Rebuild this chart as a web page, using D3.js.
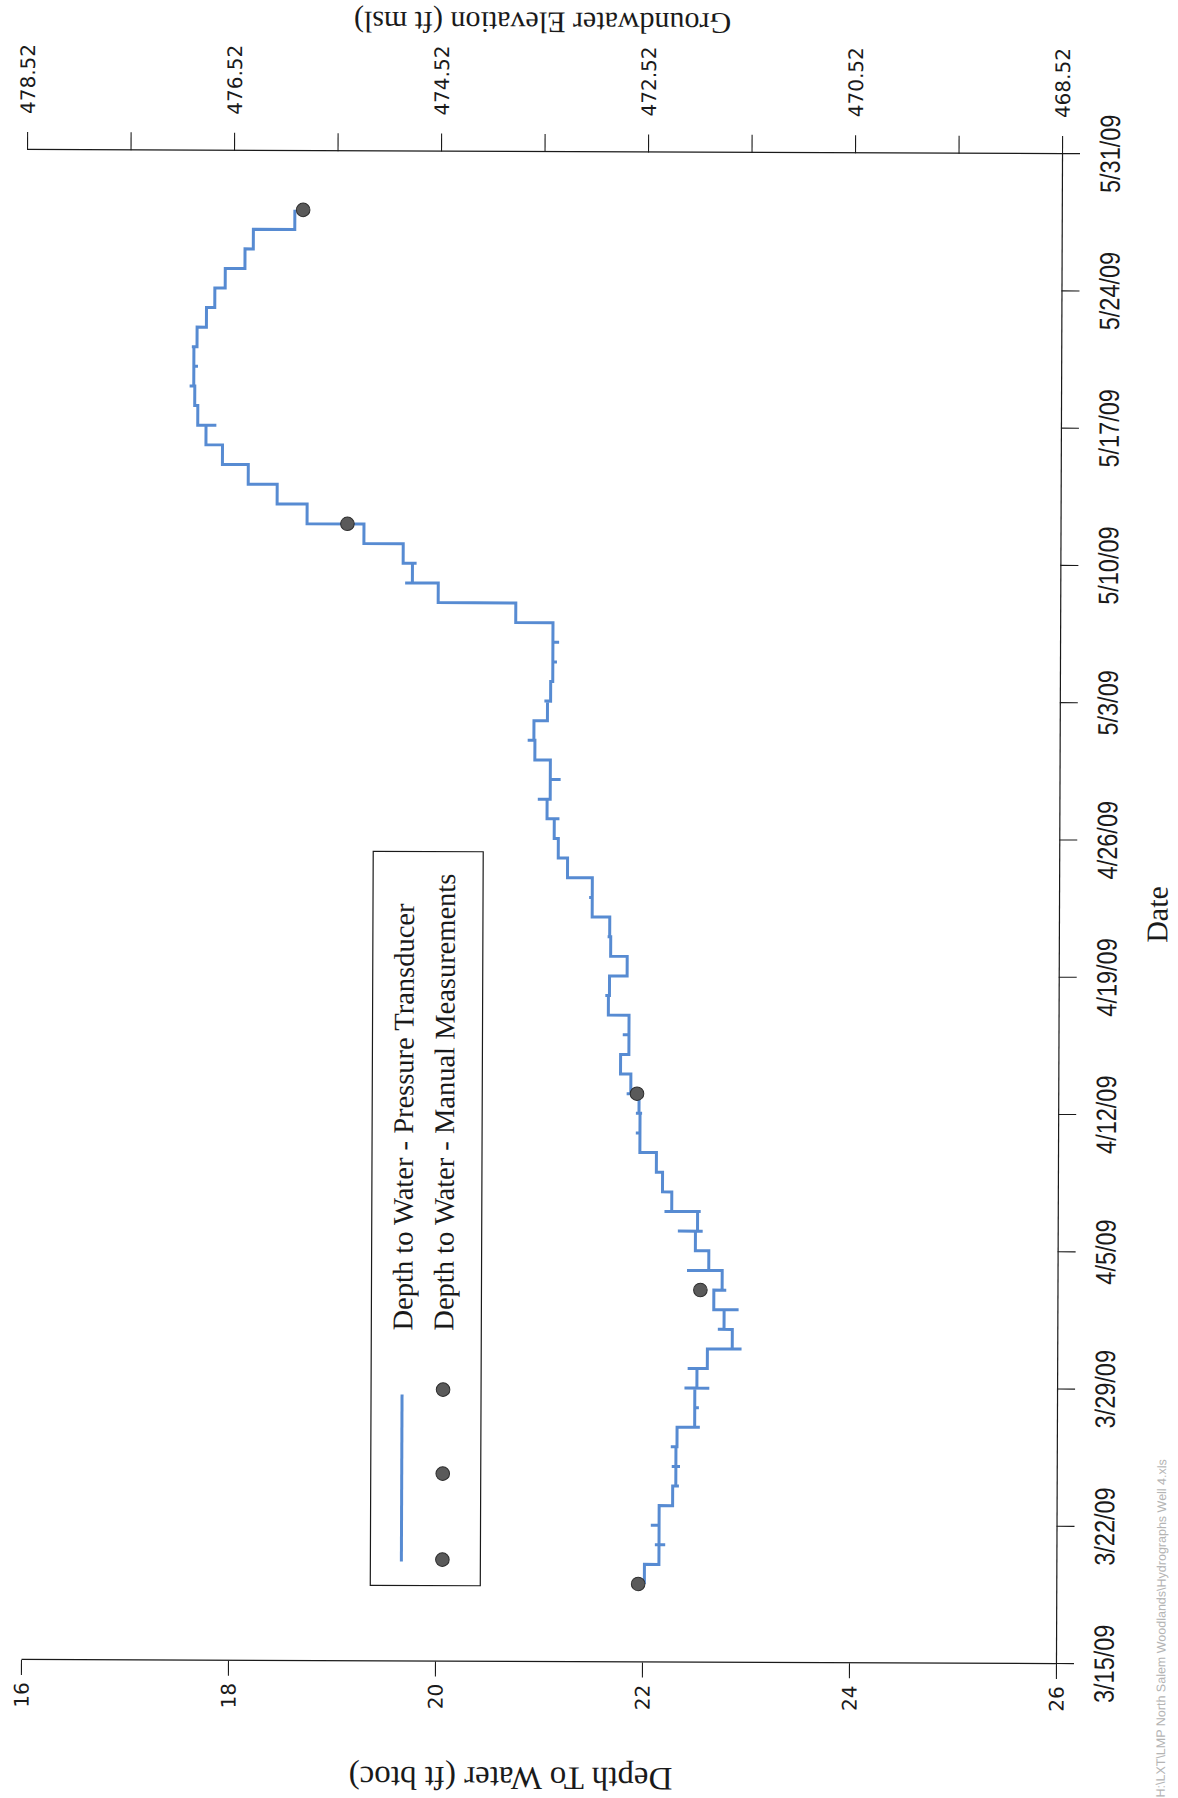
<!DOCTYPE html>
<html>
<head>
<meta charset="utf-8">
<script src="https://cdn.jsdelivr.net/npm/d3@7"></script>
<style>
  html, body { margin: 0; padding: 0; background: #fff; }
  svg { display: block; }
</style>
</head>
<body>
<svg id="chart" width="1178" height="1798"></svg>
<script>
// Well 4 hydrograph, spring 2009: depth to water recorded by the pressure
// transducer (step record) plus manual tape measurements. The sheet is laid
// out in landscape, so the whole plot is turned a quarter turn on the page.

// Transducer record: date and depth (ft below top of casing).
// Repeated dates are readings logged within the same day.
const transducerDates = [
  "3/19/09", "3/20/09", "3/21/09", "3/21/09", "3/21/09", "3/22/09", "3/22/09",
  "3/23/09", "3/24/09", "3/24/09", "3/25/09", "3/25/09", "3/25/09", "3/26/09", "3/26/09",
  "3/27/09", "3/27/09", "3/28/09", "3/28/09", "3/29/09", "3/29/09", "3/29/09",
  "3/30/09", "3/30/09", "3/31/09", "3/31/09", "4/1/09", "4/1/09", "4/2/09", "4/2/09",
  "4/3/09", "4/3/09", "4/4/09", "4/4/09", "4/5/09", "4/6/09", "4/6/09", "4/6/09",
  "4/7/09", "4/7/09", "4/7/09", "4/8/09", "4/9/09", "4/10/09", "4/11/09", "4/11/09",
  "4/12/09", "4/12/09", "4/12/09", "4/13/09", "4/13/09", "4/14/09", "4/15/09",
  "4/16/09", "4/16/09", "4/17/09", "4/18/09", "4/18/09", "4/19/09", "4/20/09",
  "4/21/09", "4/21/09", "4/22/09", "4/23/09", "4/23/09", "4/24/09", "4/25/09",
  "4/26/09", "4/27/09", "4/27/09", "4/28/09", "4/28/09", "4/29/09", "4/29/09",
  "4/30/09", "5/1/09", "5/1/09", "5/2/09", "5/3/09", "5/3/09", "5/4/09",
  "5/5/09", "5/5/09", "5/6/09", "5/6/09", "5/7/09", "5/8/09", "5/9/09", "5/9/09",
  "5/10/09", "5/10/09", "5/11/09", "5/12/09", "5/13/09", "5/14/09", "5/15/09",
  "5/16/09", "5/17/09", "5/17/09", "5/18/09", "5/19/09", "5/19/09", "5/20/09",
  "5/20/09", "5/21/09", "5/21/09", "5/22/09", "5/23/09", "5/24/09", "5/25/09",
  "5/26/09", "5/27/09", "5/28/09"
];
const transducerDepths = [
  22.02, 22.16, 22.22, 22.12, 22.16, 22.08, 22.16,
  22.29, 22.35, 22.32, 22.28, 22.36, 22.32, 22.27, 22.33,
  22.55, 22.50, 22.54, 22.50, 22.40, 22.64, 22.52,
  22.43, 22.62, 22.95, 22.86, 22.72, 22.78, 22.92, 22.68,
  22.80, 22.76, 22.42, 22.63, 22.50, 22.33, 22.57, 22.52,
  22.55, 22.20, 22.27, 22.18, 22.12, 21.96, 21.92, 21.96,
  21.92, 21.98, 21.95, 21.83, 21.87, 21.77, 21.85,
  21.79, 21.85, 21.65, 21.62, 21.66, 21.83, 21.67,
  21.64, 21.66, 21.49, 21.46, 21.49, 21.25, 21.16,
  21.12, 21.17, 21.05, 20.96, 21.08, 21.18, 21.08,
  20.93, 20.86, 20.92, 21.05, 21.02, 21.08, 21.10,
  21.14, 21.10, 21.16, 21.10, 20.74, 19.99, 19.67, 19.74,
  19.78, 19.65, 19.27, 18.72, 18.43, 18.15, 17.90,
  17.74, 17.84, 17.66, 17.63, 17.58, 17.62, 17.66,
  17.62, 17.60, 17.65, 17.74, 17.82, 17.92, 18.11,
  18.19, 18.59, 18.59
];

// Manual depth-to-water measurements.
const manualDates = ["3/19/09", "4/3/09", "4/13/09", "5/12/09", "5/28/09"];
const manualDepths = [21.96, 22.55, 21.93, 19.11, 18.67];

// Axis ticks.
const dateTicks = ["3/15/09", "3/22/09", "3/29/09", "4/5/09", "4/12/09", "4/19/09",
                   "4/26/09", "5/3/09", "5/10/09", "5/17/09", "5/24/09", "5/31/09"];
const depthTicks = [16, 18, 20, 22, 24, 26];
const elevationTicks = [478.52, 477.52, 476.52, 475.52, 474.52, 473.52,
                        472.52, 471.52, 470.52, 469.52, 468.52];
const elevationLabels = ["478.52", "476.52", "474.52", "472.52", "470.52", "468.52"];

// Top-of-casing elevation: groundwater elevation = datum - depth to water.
const casingElevation = 494.52;

const legendItems = ["Depth to Water - Pressure Transducer",
                     "Depth to Water - Manual Measurements"];
const footerText = "H:\\LXT\\LMP North Salem Woodlands\\Hydrographs Well 4.xls";

// ---------------------------------------------------------------------------
const W = 1510;   // length of the date axis
const H = 1035;   // length of the depth axis
const ink = "#1a1a1a";
const lineBlue = "#578bd2";
const serif = "'Liberation Serif', 'Times New Roman', serif";
const numFont = "'DejaVu Sans', Verdana, sans-serif";
const narrowFont = "'Liberation Sans Narrow', 'Liberation Sans', Arial, sans-serif";

const parse = d3.timeParse("%m/%d/%y");
const fmt = d3.timeFormat("%-m/%-d/%y");

const svg = d3.select("#chart");
svg.append("rect").attr("width", 1178).attr("height", 1798).attr("fill", "#fff");

// page sits very slightly askew; the plot itself is drawn in landscape and turned
const page = svg.append("g").attr("transform", "rotate(0.23 541 907)");
const g = page.append("g").attr("transform", "translate(24,1662) rotate(-90)");

const x = d3.scaleTime()
  .domain([parse(dateTicks[0]), parse(dateTicks[dateTicks.length - 1])])
  .range([0, W]);
const y = d3.scaleLinear().domain([16, 26]).range([0, H]);
const yElev = d3.scaleLinear()
  .domain([casingElevation - 16, casingElevation - 26])
  .range([0, H]);

function styleAxis(sel) {
  sel.attr("font-family", null).attr("font-size", null);
  sel.select(".domain").attr("stroke", ink).attr("stroke-width", 1.2);
  sel.selectAll(".tick line").attr("stroke", ink).attr("stroke-width", 1.1);
  sel.selectAll(".tick text").attr("fill", ink);
}

// Date axis
const xAxisG = g.append("g")
  .attr("transform", `translate(0,${H})`)
  .call(d3.axisBottom(x)
    .tickValues(dateTicks.map(parse))
    .tickFormat(fmt)
    .tickSize(18)
    .tickSizeOuter(0));
styleAxis(xAxisG);
xAxisG.selectAll(".tick text")
  .attr("y", 48).attr("dy", "0.35em")
  .attr("font-family", narrowFont).attr("font-size", 28)
  .attr("transform", "scale(0.84,1)");

// Depth axis
const yAxisG = g.append("g")
  .call(d3.axisLeft(y)
    .tickValues(depthTicks)
    .tickFormat(d3.format("d"))
    .tickSize(15)
    .tickSizeOuter(0));
styleAxis(yAxisG);
yAxisG.selectAll(".tick text")
  .attr("x", -35).attr("dy", "0.36em").attr("text-anchor", "middle")
  .attr("font-family", numFont).attr("font-size", 20);

// Groundwater elevation axis
const eAxisG = g.append("g")
  .attr("transform", `translate(${W},0)`)
  .call(d3.axisRight(yElev)
    .tickValues(elevationTicks)
    .tickFormat(d => {
      const s = d3.format(".2f")(d);
      return elevationLabels.includes(s) ? s : "";
    })
    .tickSize(18)
    .tickSizeOuter(0));
styleAxis(eAxisG);
eAxisG.selectAll(".tick text")
  .attr("x", 71).attr("dy", "0.36em").attr("text-anchor", "middle")
  .attr("font-family", numFont).attr("font-size", 20);

// Axis titles
g.append("text")
  .attr("x", 750).attr("y", 1133).attr("dy", "0.35em")
  .attr("text-anchor", "middle")
  .attr("font-family", serif).attr("font-size", 30).attr("fill", ink)
  .text("Date");

g.append("text")
  .attr("transform", "translate(-117,490) rotate(-90)")
  .attr("dy", "0.35em").attr("text-anchor", "middle")
  .attr("font-family", serif).attr("font-size", 33).attr("fill", ink)
  .text("Depth To Water (ft btoc)");

g.append("text")
  .attr("transform", "translate(1639,515) rotate(-90)")
  .attr("dy", "0.35em").attr("text-anchor", "middle")
  .attr("font-family", serif).attr("font-size", 30).attr("fill", ink)
  .text("Groundwater Elevation (ft msl)");

// Transducer record
const transducer = transducerDates.map((d, i) => ({ date: parse(d), depth: transducerDepths[i] }));
const line = d3.line()
  .x(d => x(d.date))
  .y(d => y(d.depth))
  .curve(d3.curveStepAfter);

g.append("path")
  .datum(transducer)
  .attr("fill", "none")
  .attr("stroke", lineBlue)
  .attr("stroke-width", 3)
  .attr("stroke-linejoin", "miter")
  .attr("d", line);

// Manual measurements
const manual = manualDates.map((d, i) => ({ date: parse(d), depth: manualDepths[i] }));
g.selectAll("circle.manual")
  .data(manual)
  .join("circle")
  .attr("class", "manual")
  .attr("cx", d => x(d.date))
  .attr("cy", d => y(d.depth))
  .attr("r", 6.8)
  .attr("fill", "#5a5a5a")
  .attr("stroke", "#2e2e2e")
  .attr("stroke-width", 1);

// Legend
const legend = g.append("g");
legend.append("rect")
  .attr("x", 76).attr("y", 349).attr("width", 734).attr("height", 110)
  .attr("fill", "#fff").attr("stroke", ink).attr("stroke-width", 1.2);
legend.append("line")
  .attr("x1", 100).attr("x2", 267).attr("y1", 380).attr("y2", 380)
  .attr("stroke", lineBlue).attr("stroke-width", 3);
legend.selectAll("circle")
  .data([102, 188, 272])
  .join("circle")
  .attr("cx", d => d).attr("cy", 421).attr("r", 6.8)
  .attr("fill", "#5a5a5a").attr("stroke", "#2e2e2e").attr("stroke-width", 1);
legend.selectAll("text")
  .data(legendItems)
  .join("text")
  .attr("x", 331)
  .attr("y", (d, i) => i === 0 ? 380 : 421)
  .attr("dy", "0.35em")
  .attr("font-family", serif).attr("font-size", 28.5).attr("fill", ink)
  .text(d => d);

// File path footer
g.append("text")
  .attr("x", -133).attr("y", 1140).attr("dy", "0.35em")
  .attr("font-family", narrowFont).attr("font-size", 12.5)
  .attr("fill", "#b4b4b4")
  .text(footerText);
</script>
</body>
</html>
